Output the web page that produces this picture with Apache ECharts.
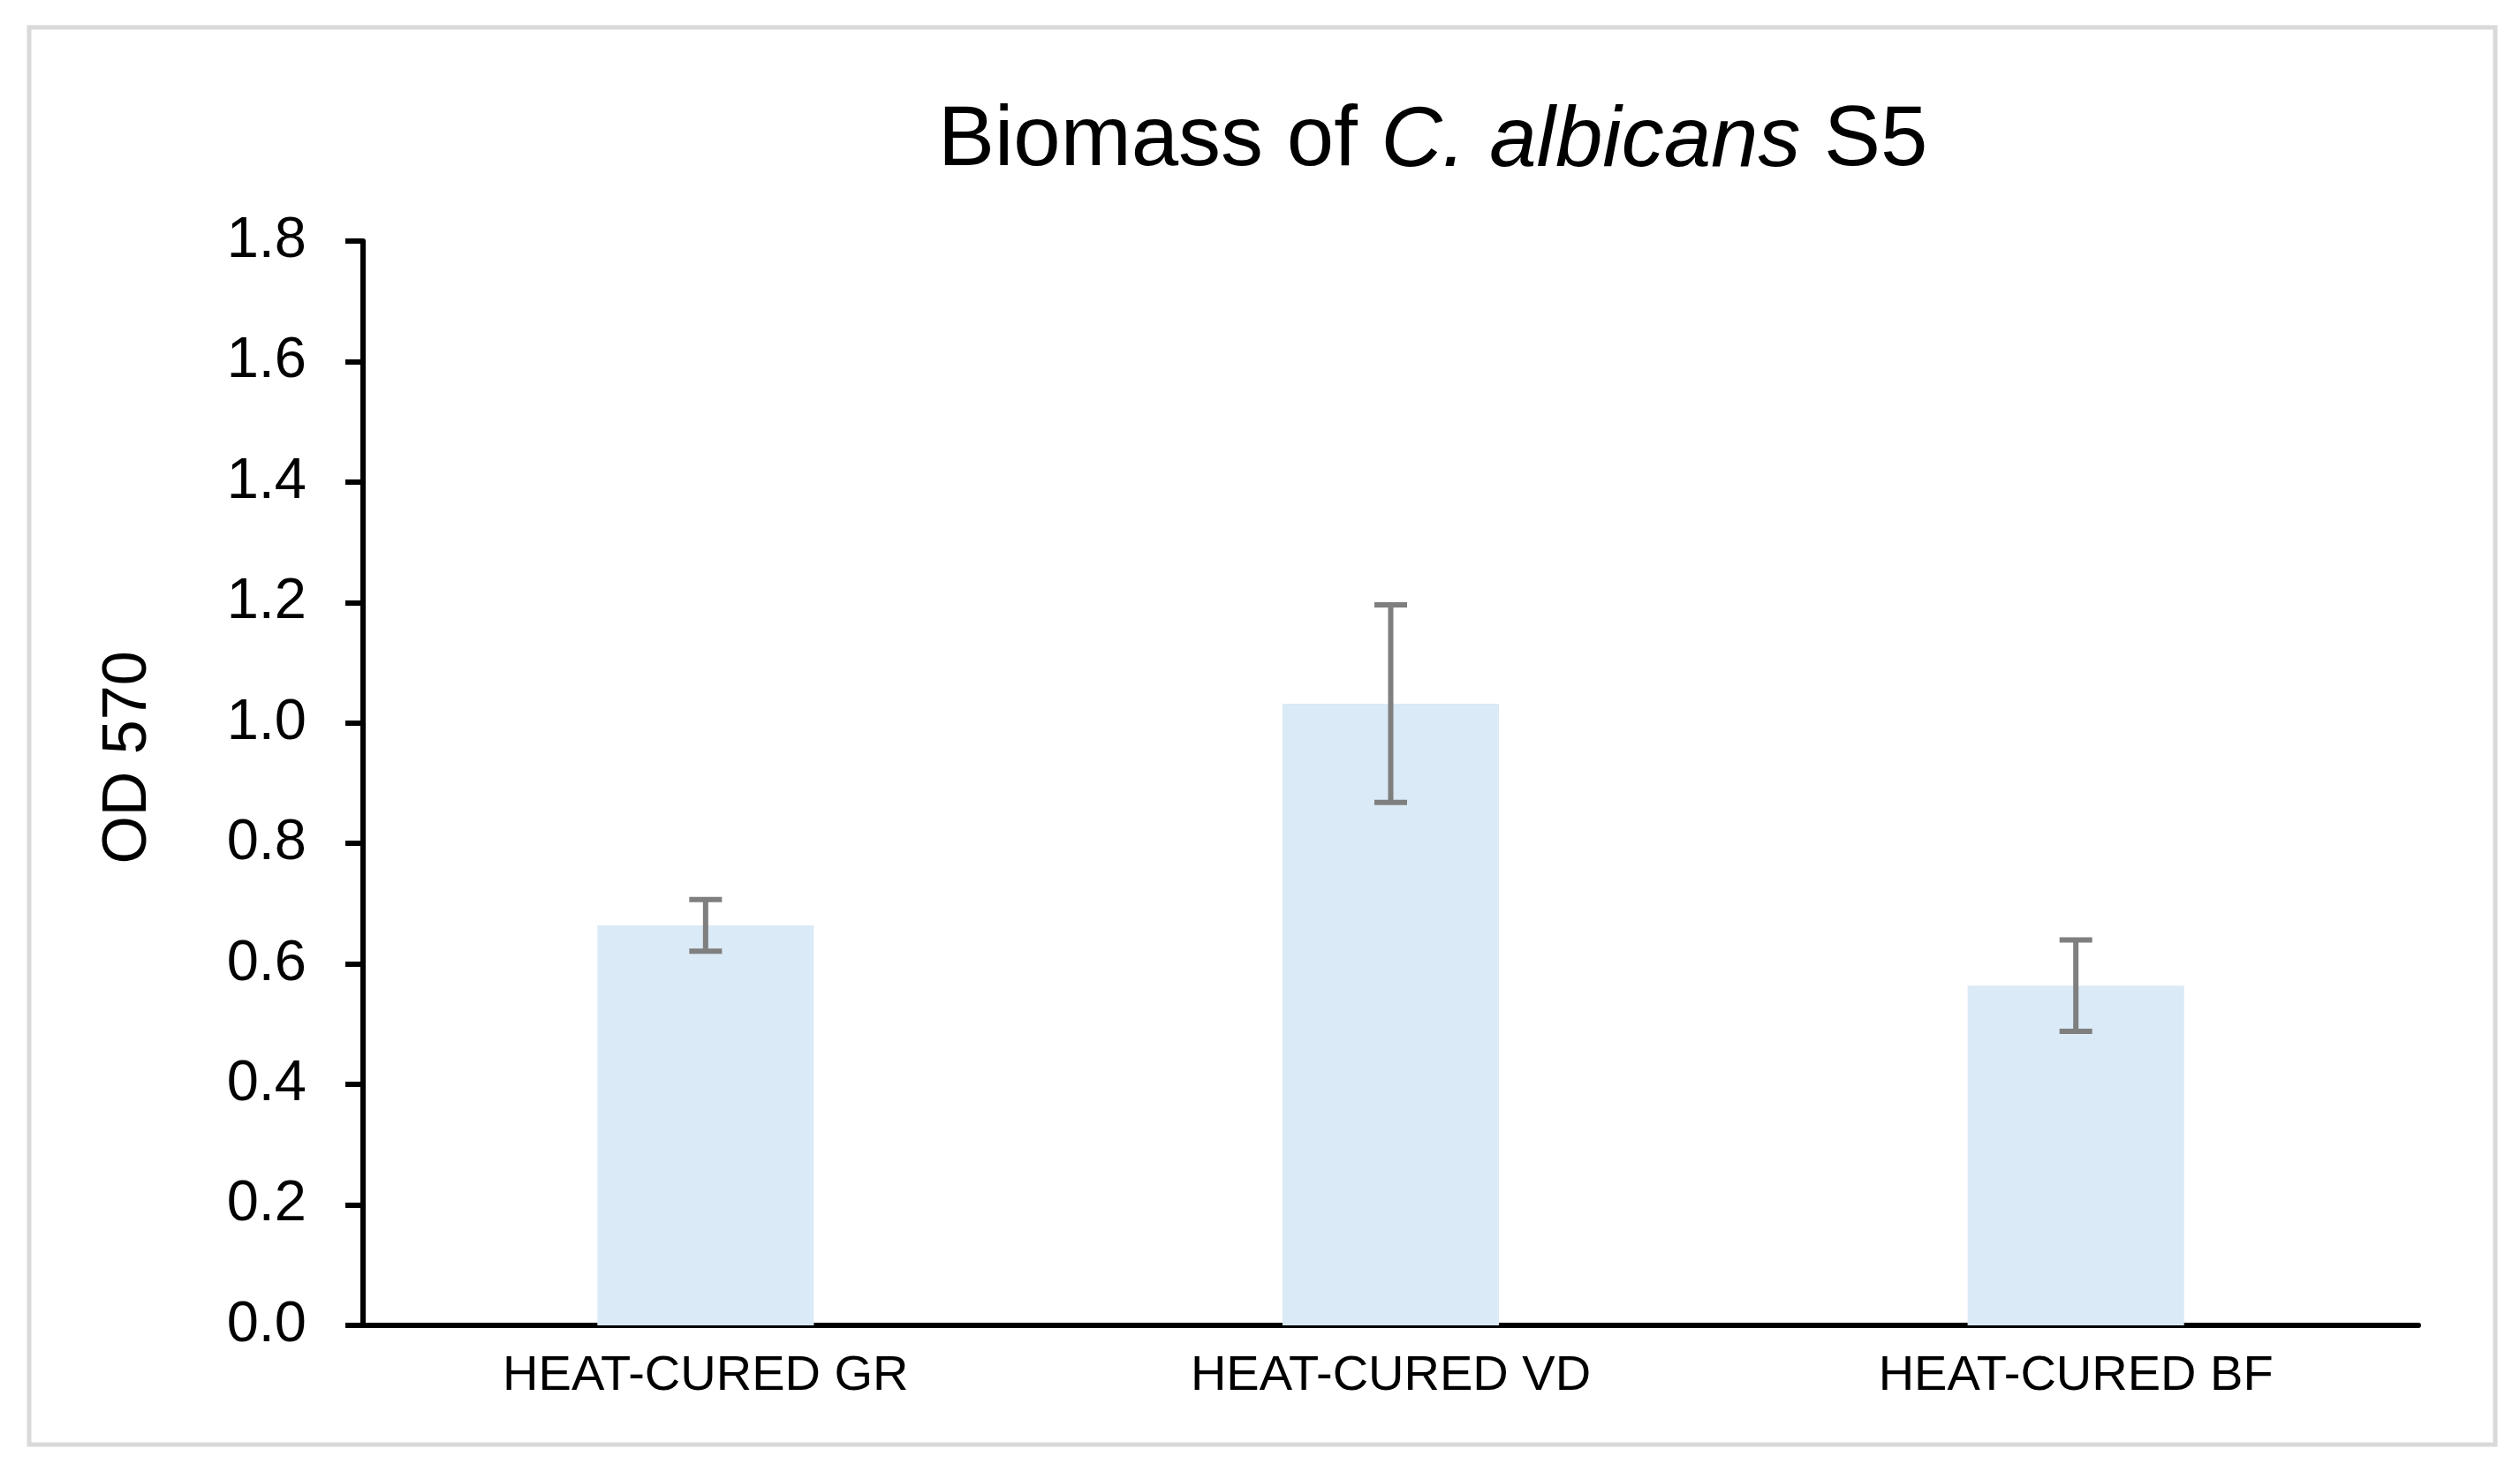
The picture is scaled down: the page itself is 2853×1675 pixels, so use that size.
<!DOCTYPE html>
<html>
<head>
<meta charset="utf-8">
<script src="https://cdn.jsdelivr.net/npm/echarts@6/dist/echarts.min.js"></script>
<style>
  html, body { margin: 0; padding: 0; background: #fff; }
  #main { width: 2853px; height: 1675px; }
</style>
</head>
<body>
<div id="main"></div>
<script>
// data
var categories = ["HEAT-CURED GR", "HEAT-CURED VD", "HEAT-CURED BF"];
var means = [0.664, 1.032, 0.564];
var errors = [0.043, 0.164, 0.076];
var yTicks = [0, 1.8, 0.2]; // min, max, interval

var FONT = "'Liberation Sans', Arial, sans-serif";

var errData = categories.map(function (c, i) {
  return [i, means[i] - errors[i], means[i] + errors[i]];
});

var myChart = echarts.init(document.getElementById("main"), null, { renderer: "canvas" });

var option = {
  backgroundColor: "#fff",
  animation: false,
  title: {
    text: "{a|Biomass of }{i|C. albicans}{a| S5}",
    left: 1057,
    top: 108,
    textStyle: {
      fontWeight: "normal",
      rich: {
        a: { fontFamily: FONT, fontSize: 96, fontWeight: "normal", color: "#000" },
        i: { fontFamily: FONT, fontSize: 96, fontWeight: "normal", color: "#000", fontStyle: "italic" }
      }
    }
  },
  graphic: [{
    type: "rect",
    shape: { x: 33, y: 31, width: 2792, height: 1605 },
    style: { fill: null, stroke: "#d9d9d9", lineWidth: 5 },
    silent: true
  }],
  grid: { left: 411, right: 115, top: 273, bottom: 174 },
  xAxis: {
    type: "category",
    data: categories,
    axisLine: { lineStyle: { color: "#000", width: 6 } },
    axisTick: { show: false },
    axisLabel: { color: "#000", fontFamily: FONT, fontSize: 56, margin: 30 }
  },
  yAxis: {
    type: "value",
    min: yTicks[0],
    max: yTicks[1],
    interval: yTicks[2],
    name: "OD 570",
    nameLocation: "middle",
    nameGap: 230,
    nameTextStyle: { color: "#000", fontFamily: FONT, fontSize: 70, padding: [0, 0, 0, 58] },
    splitLine: { show: false },
    axisLine: { show: true, lineStyle: { color: "#000", width: 6 } },
    axisTick: { show: true, length: 20, lineStyle: { color: "#000", width: 6 } },
    axisLabel: {
      color: "#000", fontFamily: FONT, fontSize: 65, margin: 64,
      formatter: function (v) { return v.toFixed(1); }
    }
  },
  series: [
    {
      type: "bar",
      data: means,
      barWidth: "31.6%",
      itemStyle: { color: "#daeaf6" },
      z: 2
    },
    {
      type: "custom",
      data: errData,
      z: 3,
      renderItem: function (params, api) {
        var x = api.value(0);
        var lo = api.coord([x, api.value(1)]);
        var hi = api.coord([x, api.value(2)]);
        var half = 18.5;
        var st = { stroke: "#7f7f7f", lineWidth: 6 };
        return {
          type: "group",
          children: [
            { type: "line", shape: { x1: hi[0], y1: hi[1], x2: lo[0], y2: lo[1] }, style: st },
            { type: "line", shape: { x1: hi[0] - half, y1: hi[1], x2: hi[0] + half, y2: hi[1] }, style: st },
            { type: "line", shape: { x1: lo[0] - half, y1: lo[1], x2: lo[0] + half, y2: lo[1] }, style: st }
          ]
        };
      }
    }
  ]
};

myChart.setOption(option);
</script>
</body>
</html>
